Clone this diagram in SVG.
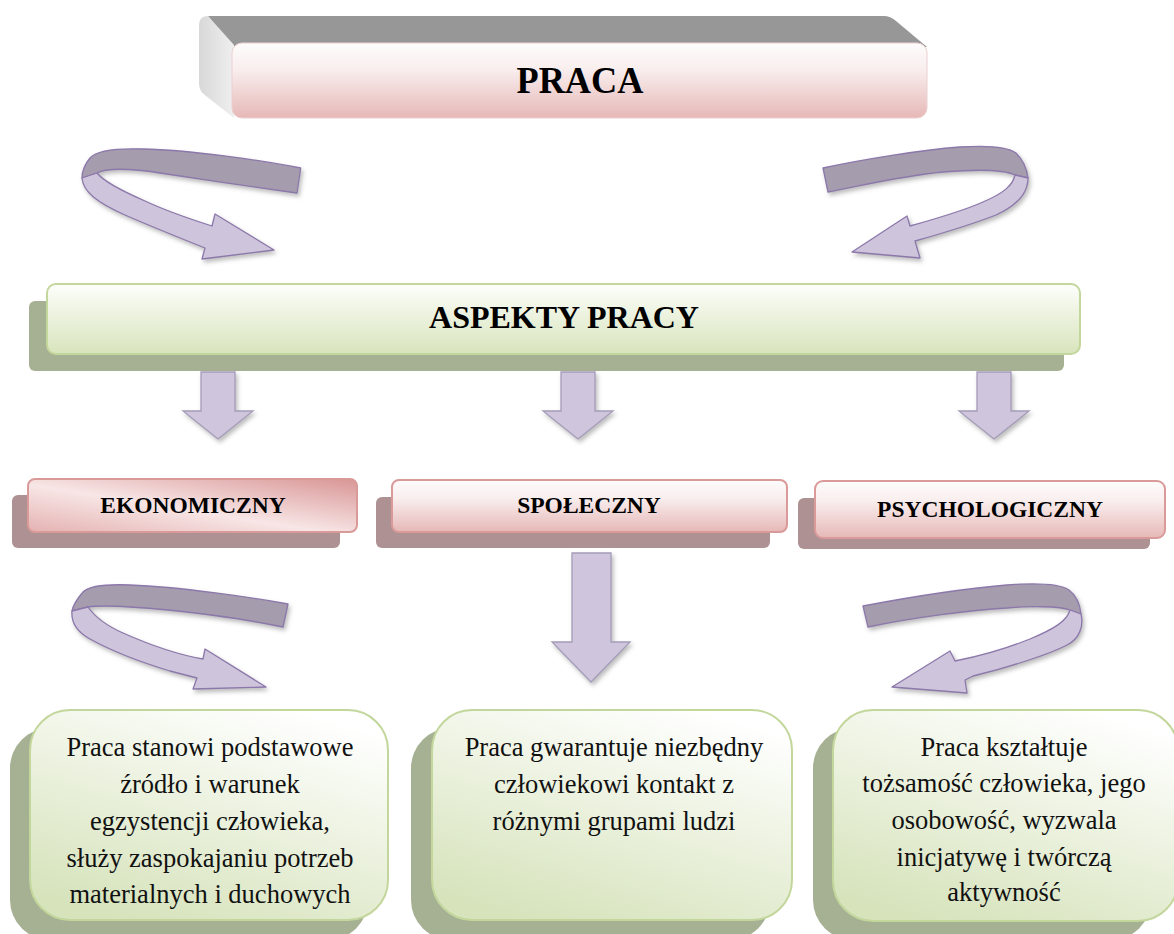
<svg xmlns="http://www.w3.org/2000/svg" width="1174" height="934" viewBox="0 0 1174 934">
  <defs>
    <linearGradient id="pinkV" x1="0" y1="0" x2="0" y2="1">
      <stop offset="0" stop-color="#fefcfc"/>
      <stop offset="0.35" stop-color="#f9eeee"/>
      <stop offset="1" stop-color="#e6b8b7"/>
    </linearGradient>
    <linearGradient id="pinkD" x1="0" y1="1" x2="1" y2="0">
      <stop offset="0" stop-color="#e4b2b1"/>
      <stop offset="0.45" stop-color="#f8e6e6"/>
      <stop offset="1" stop-color="#d99595"/>
    </linearGradient>
    <linearGradient id="greenV" x1="0" y1="0" x2="0" y2="1">
      <stop offset="0" stop-color="#fdfefb"/>
      <stop offset="1" stop-color="#d8e4bc"/>
    </linearGradient>
    <linearGradient id="greenD" x1="0.75" y1="0" x2="0.25" y2="1">
      <stop offset="0" stop-color="#ffffff"/>
      <stop offset="1" stop-color="#d6e3bb"/>
    </linearGradient>
    <linearGradient id="sideG" x1="0" y1="0" x2="1" y2="0">
      <stop offset="0" stop-color="#d8d8d8"/>
      <stop offset="1" stop-color="#efefef"/>
    </linearGradient>
    <filter id="sh" x="-10%" y="-10%" width="130%" height="140%">
      <feDropShadow dx="2" dy="3" stdDeviation="2" flood-color="#6f6f6f" flood-opacity="0.45"/>
    </filter>
  </defs>
  <style>
    .title { font-family: "Liberation Serif", "Times New Roman", serif; font-weight: bold; fill: #000; text-anchor: middle; }
    .body { font-family: "Liberation Serif", "Times New Roman", serif; font-size: 26.5px; fill: #111; text-anchor: middle; }
    .rib-dark { fill: #a59cae; stroke: #8c78aa; stroke-width: 1.3; stroke-linejoin: round; }
    .rib-light { fill: #cec5dc; stroke: #8c78aa; stroke-width: 1.3; stroke-linejoin: round; }
    .down { fill: #cfc6de; stroke: #a59cb8; stroke-width: 1.3; filter: url(#sh); }
    .shadow-green { fill: #a6b093; }
    .shadow-pink { fill: #ae9293; }
    .box-green { stroke: #c3d69b; stroke-width: 2; }
    .box-pink { stroke: #d99a99; stroke-width: 2; }
  </style>

  <!-- top bar with bevelled top and left faces -->
  <g id="praca">
    <path d="M208,16 L884,16 Q890,16 896,21 L927,47 L232,47 Z" fill="#979797"/>
    <path d="M199,25 Q199,16 208,16 L234,45 L234,118 L206,96 Q199,91 199,84 Z" fill="url(#sideG)"/>
    <rect x="232" y="43" width="695" height="75" rx="10" fill="url(#pinkV)" stroke="#ecd0d0" stroke-width="1"/>
    <text class="title" x="580" y="93" font-size="37" textLength="127" lengthAdjust="spacingAndGlyphs">PRACA</text>
  </g>

  <g id="aspekty">
    <rect class="shadow-green" x="29" y="301" width="1035" height="70" rx="6"/>
    <rect class="box-green" x="47" y="284" width="1033" height="70" rx="9" fill="url(#greenV)"/>
    <text class="title" x="564" y="328" font-size="32">ASPEKTY PRACY</text>
  </g>

  <g id="ekonomiczny">
    <rect class="shadow-pink" x="12" y="495" width="328" height="53" rx="6"/>
    <rect class="box-pink" x="28" y="479" width="329" height="53" rx="7" fill="url(#pinkD)"/>
    <text class="title" x="193" y="513" font-size="23.5">EKONOMICZNY</text>
  </g>

  <g id="spoleczny">
    <rect class="shadow-pink" x="376" y="497" width="394" height="51" rx="6"/>
    <rect class="box-pink" x="392" y="480" width="395" height="52" rx="7" fill="url(#pinkV)"/>
    <text class="title" x="589" y="513" font-size="23.5">SPOŁECZNY</text>
  </g>

  <g id="psychologiczny">
    <rect class="shadow-pink" x="798" y="498" width="352" height="51" rx="6"/>
    <rect class="box-pink" x="815" y="481" width="350" height="57" rx="8" fill="url(#pinkV)"/>
    <text class="title" x="990" y="517" font-size="23.5">PSYCHOLOGICZNY</text>
  </g>

  <g id="opis-ekonomiczny">
    <rect class="shadow-green" x="10" y="728" width="358" height="212" rx="40"/>
    <rect class="box-green" x="30" y="710" width="358" height="210" rx="40" fill="url(#greenD)"/>
    <text class="body" x="210" y="756">Praca stanowi podstawowe</text>
    <text class="body" x="210" y="793">źródło i warunek</text>
    <text class="body" x="210" y="830">egzystencji człowieka,</text>
    <text class="body" x="210" y="867">służy zaspokajaniu potrzeb</text>
    <text class="body" x="210" y="903">materialnych i duchowych</text>
  </g>

  <g id="opis-spoleczny">
    <rect class="shadow-green" x="411" y="728" width="359" height="212" rx="40"/>
    <rect class="box-green" x="432" y="710" width="360" height="210" rx="40" fill="url(#greenD)"/>
    <text class="body" x="614" y="756">Praca gwarantuje niezbędny</text>
    <text class="body" x="614" y="793">człowiekowi kontakt z</text>
    <text class="body" x="614" y="830">różnymi grupami ludzi</text>
  </g>

  <g id="opis-psychologiczny">
    <rect class="shadow-green" x="813" y="728" width="338" height="212" rx="40"/>
    <rect class="box-green" x="833" y="710" width="345" height="211" rx="40" fill="url(#greenD)"/>
    <text class="body" x="1004" y="756">Praca kształtuje</text>
    <text class="body" x="1004" y="792">tożsamość człowieka, jego</text>
    <text class="body" x="1004" y="829">osobowość, wyzwala</text>
    <text class="body" x="1004" y="866">inicjatywę i twórczą</text>
    <text class="body" x="1004" y="901">aktywność</text>
  </g>

  <g id="connectors">
    <!-- curled ribbon arrows -->
    <g filter="url(#sh)">
      <path class="rib-dark" d="M300.7,168 C260,160 190,150 143,149 C115,148 96,151 90,158 C84,165 82,172 82,178 L97,173 C105,168 130,168 160,173 C200,179 260,188 297,193 Z"/>
      <path class="rib-light" d="M82,178 C83,192 98,203 125,215 C150,226 180,238 205,248 L202,259 L274,250 L215,214 L212,226 C190,219 162,209 145,201 C122,191 104,182 97,173 Z"/>
    </g>
    <g filter="url(#sh)">
      <path class="rib-dark" d="M823,168 C860,160 920,150 960,147 C990,145 1008,147 1016,153 C1023,160 1027,170 1028,178 L1015,175 C1005,170 980,169 943,172 C900,176 860,186 828,192 Z"/>
      <path class="rib-light" d="M1028,178 C1028,194 1016,206 996,215 C970,225 940,234 915,241 L920,258 L852,252 L907,216 L910,226 C935,219 963,211 983,202 C1004,193 1013,185 1015,175 Z"/>
    </g>
    <g filter="url(#sh)">
      <path class="rib-dark" d="M288,604 C250,597 180,587 130,585 C105,584 89,586 83,592 C77,599 73,605 72,611 L88,607 C100,605 115,606 130,607 C180,610 240,618 283,627 Z"/>
      <path class="rib-light" d="M72,611 C71,622 77,632 90,639 C110,650 140,662 170,671 L197,678 L193,689 L266,687 L205,649 L203,659 C180,655 150,645 123,633 C105,625 95,617 88,607 Z"/>
    </g>
    <g filter="url(#sh)">
      <path class="rib-dark" d="M863,606 C900,599 960,589 1007,585 C1035,583 1060,584 1069,590 C1077,596 1080,605 1081,614 L1070,610 C1060,606 1030,606 1007,608 C970,610 910,618 868,627 Z"/>
      <path class="rib-light" d="M1081,614 C1084,627 1079,639 1067,645 C1050,654 1010,667 973,676 L965,680 L967,693 L892,687 L950,651 L955,661 C980,656 1010,647 1030,639 C1054,629 1067,621 1070,610 Z"/>
    </g>
    <!-- straight block arrows -->
    <path class="down" d="M201,372 L235,372 L235,411 L253,411 L218,439 L183,411 L201,411 Z"/>
    <path class="down" d="M561,372 L595,372 L595,411 L613,411 L578,439 L543,411 L561,411 Z"/>
    <path class="down" d="M977,372 L1011,372 L1011,411 L1029,411 L994,439 L959,411 L977,411 Z"/>
    <path class="down" d="M572,553 L611,553 L611,642 L630,642 L591,682 L552,642 L572,642 Z"/>
  </g>
</svg>
